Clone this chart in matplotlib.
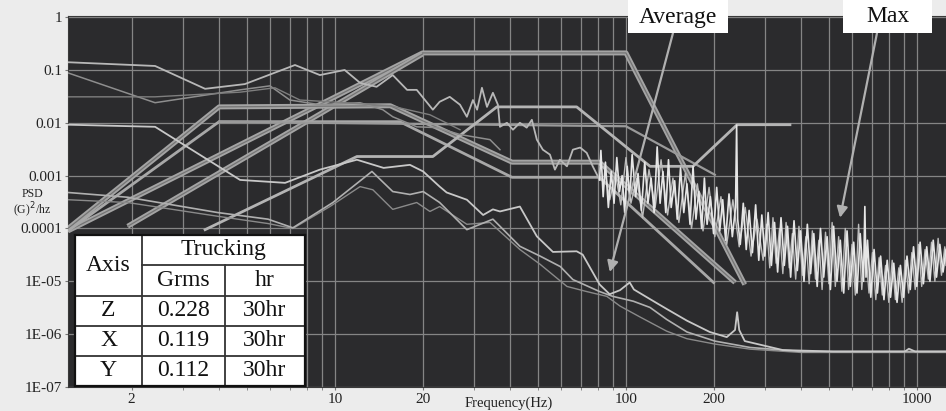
import matplotlib.pyplot as plt
import numpy as np
from matplotlib.ticker import FixedLocator, LogLocator, NullFormatter, NullLocator

plt.rcParams['font.family'] = ['Liberation Serif', 'DejaVu Serif']

# --- test profiles (thick double lines), Hz / G^2/Hz ---
p1_f = [1.21, 20, 100, 256]
p1_p = [9e-5, 0.21, 0.21, 8.7e-6]
p1b_f = [1.94, 20]
p1b_p = [1.1e-4, 0.2]
s1_f = [1.21, 4.0, 15.5, 40.6, 81, 237]
s1_p = [1e-4, 0.02, 0.021, 0.0018, 0.0018, 9.5e-6]
s2_f = [1.21, 4.0, 16.7, 40.6, 81, 200]
s2_p = [9e-5, 0.0105, 0.0105, 0.00093, 0.00093, 9.5e-6]

# --- thinner profile-like lines ---
f_line_f = [4.0, 100, 202]
f_line_p = [0.0105, 0.0086, 0.00104]
g_f = [3.58, 11.9, 21.7, 36.0, 67.7, 121, 170, 241, 366]
g_p = [9.5e-5, 0.0023, 0.0023, 0.020, 0.020, 0.0015, 0.0015, 0.0092, 0.0092]

# --- measured curves, upper left ---
l1_f = [1.21, 2.41, 3.58, 4.9, 7.29, 8.88, 10.8, 12.2, 13.9, 15.8, 17.7, 19.1,
        21.7, 22.9, 24.8, 26.9, 28.4, 29.8, 30.8, 32.0, 33.3, 34.9, 36.3, 36.9,
        39.0, 40.9, 43.2, 45.6, 47.5, 49.4, 51.8, 54.8, 57.0, 59.3, 62.7, 65.7,
        69.6, 73.3, 76.9, 81.2]
l1_p = [0.14, 0.119, 0.044, 0.054, 0.124, 0.08, 0.1, 0.057, 0.048, 0.08, 0.042,
        0.042, 0.0177, 0.025, 0.031, 0.022, 0.013, 0.027, 0.0177, 0.046, 0.020,
        0.037, 0.022, 0.0084, 0.010, 0.0074, 0.010, 0.0081, 0.0114, 0.0048,
        0.0031, 0.0025, 0.0013, 0.0020, 0.0015, 0.0031, 0.0034, 0.0027, 0.0015,
        0.00083]
l2_f = [1.21, 2.41, 4.72, 5.98, 7.0, 8.88, 12.2, 14.6, 15.8, 19.1, 22.4, 26.9, 34.1, 36.9]
l2_p = [0.088, 0.024, 0.042, 0.050, 0.027, 0.022, 0.024, 0.0177, 0.013, 0.0084,
        0.0081, 0.0060, 0.0048, 0.0031]
l2b_f = [1.21, 2.41, 4.72, 6.22, 7.58, 10.8, 15.5, 21.2, 26.9]
l2b_p = [0.031, 0.031, 0.038, 0.046, 0.027, 0.024, 0.021, 0.0142, 0.0074]

# --- "Max" noisy spectra ---
max_f = [81.2, 82, 83.5, 85, 87, 89, 91, 93, 95, 97, 99, 101, 103, 105, 108, 110,
         113, 116, 119, 122, 125, 128, 131, 134, 137, 140, 143, 147, 150, 154, 158,
         162, 166, 170, 174, 178, 182, 186, 190, 195, 200, 205, 210, 215, 220, 226,
         232, 238, 240, 242, 247, 253, 259, 265, 272, 279, 286, 293, 300, 308, 316,
         324, 332, 341, 350, 359, 368, 378, 388, 398, 409, 420, 431, 442, 454, 466,
         478, 491, 504, 517, 531, 545, 560, 575, 590, 606, 622, 638, 655, 662, 668,
         676, 694, 712, 731, 750, 770, 790, 811, 832, 854, 877, 900, 924, 948, 973,
         999, 1025, 1052, 1080, 1108, 1137, 1167, 1198, 1229, 1258]
max_p = [8.3e-4, 3.0e-3, 4.0e-4, 1.8e-3, 2.5e-4, 1.2e-3, 3.0e-4, 2.2e-3, 5.0e-4,
         1.0e-3, 2.0e-4, 1.5e-3, 3.5e-4, 2.5e-3, 4.0e-4, 1.1e-3, 2.2e-4, 1.8e-3,
         3.0e-4, 9.0e-4, 2.0e-4, 3.5e-3, 3.0e-4, 1.2e-3, 2.0e-4, 2.0e-3, 2.5e-4,
         8.0e-4, 1.5e-4, 1.4e-3, 2.0e-4, 7.0e-4, 1.2e-4, 1.5e-3, 1.5e-4, 5.0e-4,
         1.0e-4, 9.0e-4, 1.2e-4, 4.0e-4, 8.0e-5, 6.0e-4, 9.0e-5, 3.5e-4, 6.0e-5,
         4.5e-4, 7.0e-5, 2.5e-4, 9.0e-3, 1.5e-4, 5.0e-5, 3.0e-4, 4.0e-5, 2.2e-4,
         3.5e-5, 2.8e-4, 2.5e-5, 1.8e-4, 3.0e-5, 2.0e-4, 2.0e-5, 1.3e-4, 1.5e-5,
         1.6e-4, 2.0e-5, 1.1e-4, 1.2e-5, 1.4e-4, 1.6e-5, 9.0e-5, 1.0e-5, 1.2e-4,
         1.4e-5, 8.0e-5, 8.0e-6, 1.0e-4, 1.2e-5, 7.0e-5, 7.0e-6, 1.1e-4, 1.0e-5,
         6.0e-5, 6.0e-6, 9.0e-5, 8.0e-6, 5.5e-5, 6.0e-6, 8.0e-5, 1.0e-5, 2.6e-4,
         1.2e-5, 6.0e-5, 5.0e-6, 4.0e-5, 6.0e-6, 3.0e-5, 4.5e-6, 2.5e-5, 5.0e-6,
         2.2e-5, 4.0e-6, 2.0e-5, 5.0e-6, 3.0e-5, 7.0e-6, 4.5e-5, 8.0e-6, 5.5e-5,
         9.0e-6, 4.5e-5, 1.0e-5, 6.0e-5, 1.2e-5, 5.0e-5, 1.5e-5, 4.0e-5]
max2_pts = [(84, 1.5e-3), (88, 3.5e-4), (92, 1.1e-3), (96, 2.8e-4), (100, 2.2e-3),
            (104, 3.0e-4), (109, 9.0e-4), (114, 1.6e-4), (120, 1.3e-3), (126, 2.5e-4),
            (132, 2.0e-3), (139, 1.8e-4), (145, 9.0e-4), (152, 1.3e-4), (160, 1.1e-3),
            (168, 1.0e-4), (176, 7.0e-4), (184, 9.0e-5), (193, 6.0e-4), (202, 7.0e-5),
            (212, 4.0e-4), (222, 5.0e-5), (233, 3.5e-4), (245, 4.5e-5), (257, 2.5e-4),
            (269, 3.0e-5), (282, 1.5e-4), (296, 2.5e-5), (304, 1.2e-4), (312, 1.8e-5),
            (320, 1.6e-4), (328, 2.2e-5), (337, 1.0e-4), (346, 1.4e-5), (355, 1.3e-4),
            (364, 1.8e-5), (373, 8.0e-5), (383, 1.1e-5), (393, 1.1e-4), (404, 1.3e-5),
            (415, 7.0e-5), (426, 9.0e-6), (437, 9.0e-5), (448, 1.1e-5), (460, 6.0e-5),
            (472, 7.0e-6), (485, 8.5e-5), (498, 9.0e-6), (511, 1.3e-4), (524, 8.0e-6),
            (538, 7.0e-5), (552, 6.5e-6), (567, 1.0e-4), (582, 7.0e-6), (598, 5.0e-5),
            (614, 5.5e-6), (630, 1.2e-4), (646, 7.0e-6), (664, 5.0e-5), (684, 6.0e-6),
            (703, 3.5e-5), (722, 4.5e-6), (741, 2.8e-5), (760, 5.5e-6), (780, 2.0e-5),
            (800, 4.0e-6), (822, 2.5e-5), (843, 4.5e-6), (866, 1.8e-5), (889, 4.0e-6),
            (912, 2.5e-5), (936, 6.0e-6), (960, 3.5e-5), (986, 7.0e-6), (1012, 5.0e-5),
            (1038, 8.0e-6), (1066, 4.0e-5), (1094, 1.1e-5), (1122, 5.5e-5),
            (1152, 1.0e-5), (1182, 6.5e-5), (1214, 1.3e-5), (1246, 4.5e-5),
            (1258, 2.0e-5)]

# --- "Average" curves ---
ava_f = [1.21, 2.41, 4.72, 6.74, 8.88, 11.9, 14.7, 18.1, 20.1, 22.9, 24.2, 28.4,
         32.3, 34.9, 36.9, 43.2, 49.4, 56.1, 67.7, 71.0, 81.2, 87.9, 95.4, 103,
         106.5, 121, 138, 162, 194, 222, 237, 241, 245, 256, 346, 515, 909, 938,
         985, 1258]
ava_p = [0.0092, 0.0084, 0.00083, 0.00073, 0.0013, 0.0020, 0.0014, 0.0016, 0.0012,
         0.00062, 0.00048, 0.00035, 0.00018, 0.00023, 0.00021, 0.00026, 7.1e-5,
         3.6e-5, 3.7e-5, 3.2e-5, 8.7e-6, 5.7e-6, 6.8e-6, 9.5e-6, 7.0e-6, 4.6e-6,
         3.0e-6, 1.8e-6, 1.1e-6, 8.8e-7, 1.2e-6, 2.6e-6, 1.2e-6, 7.4e-7, 5.0e-7,
         4.7e-7, 4.7e-7, 5.3e-7, 4.7e-7, 4.7e-7]
avb_f = [1.21, 1.94, 3.96, 5.89, 7.17, 9.84, 13.4, 15.8, 18.1, 20.1, 22.9, 28.4,
         34.9, 43.2, 50.7, 59.5, 65.7, 81.2, 90, 106, 121, 138, 162, 202, 267, 400, 1258]
avb_p = [4.8e-4, 3.9e-4, 2.0e-4, 1.5e-4, 1.03e-4, 3.1e-4, 1.2e-3, 5.0e-4, 4.4e-4,
         5.0e-4, 3.1e-4, 9.5e-5, 1.5e-4, 4.6e-5, 3.0e-5, 1.9e-5, 1.08e-5, 6.4e-6,
         5.2e-6, 4.2e-6, 3.2e-6, 1.9e-6, 1.1e-6, 7.4e-7, 5.6e-7, 4.7e-7, 4.7e-7]
avc_f = [1.21, 1.94, 3.96, 5.89, 7.17, 9.61, 12.2, 13.5, 15.8, 19.1, 21.2, 22.9,
         28.4, 34.1, 43.2, 50.7, 62.7, 73.3, 85.9, 95.4, 112, 138, 162, 202, 267, 400, 1258]
avc_p = [3.5e-4, 3.1e-4, 1.7e-4, 1.24e-4, 1.0e-4, 2.6e-4, 6.2e-4, 5.4e-4, 2.3e-4,
         3.1e-4, 2.1e-4, 2.6e-4, 1.2e-4, 1.3e-4, 4.0e-5, 2.1e-5, 8.0e-6, 6.4e-6,
         5.2e-6, 3.4e-6, 2.1e-6, 1.14e-6, 8.2e-7, 6.5e-7, 5.2e-7, 4.5e-7, 4.5e-7]

# --- table ---
axis_names = ['Z', 'X', 'Y']
grms_vals = ['0.228', '0.119', '0.112']
hours = ['30hr', '30hr', '30hr']

# y tick labels
y_ticks = [1e-7, 1e-6, 1e-5, 1e-4, 1e-3, 1e-2, 1e-1, 1]
y_labels = ['1E-07', '1E-06', '1E-05', '0.0001', '0.001', '0.01', '0.1', '1']
x_ticks = [2, 10, 20, 100, 200, 1000]

W, H = 946, 411
fig = plt.figure(figsize=(W / 100, H / 100), dpi=100, facecolor='#ececec')
ax = fig.add_axes([68 / W, 1 - 387 / H, 878 / W, 371 / H])
ax.set_facecolor('#2b2b2d')
ax.set_xscale('log')
ax.set_yscale('log')
ax.set_xlim(1.21, 1258)
ax.set_ylim(1e-7, 1.05)

ax.xaxis.set_major_locator(FixedLocator(x_ticks))
ax.set_xticklabels([str(t) for t in x_ticks])
ax.xaxis.set_minor_locator(LogLocator(base=10, subs=np.arange(1, 10)))
ax.xaxis.set_minor_formatter(NullFormatter())
ax.set_yticks(y_ticks)
ax.set_yticklabels(y_labels)
ax.yaxis.set_minor_locator(NullLocator())
ax.tick_params(axis='both', which='both', length=2, color='#777', labelsize=11,
               labelcolor='#222', pad=2)
ax.grid(True, axis='x', which='both', color='#858585', lw=0.9)
ax.grid(True, axis='y', which='major', color='#858585', lw=0.9)
ax.set_axisbelow(True)
for s in ax.spines.values():
    s.set_color('#3a3a3a')


def profile(f, p):
    ax.plot(f, p, color='#a4a4a4', lw=3.6, solid_capstyle='butt', zorder=3)
    ax.plot(f, p, color='#747474', lw=0.9, zorder=3)


profile(p1_f, p1_p)
profile(p1b_f, p1b_p)
profile(s1_f, s1_p)
ax.plot(s2_f, s2_p, color='#a8a8a8', lw=2.0, zorder=3)
ax.plot(f_line_f, f_line_p, color='#9a9a9a', lw=1.6, zorder=3)
ax.plot(g_f, g_p, color='#b4b4b4', lw=2.0, zorder=3)

ax.plot(l2_f, l2_p, color='#8e8e8e', lw=1.1, zorder=4)
ax.plot(l2b_f, l2b_p, color='#7e7e7e', lw=1.0, zorder=4)
ax.plot(l1_f, l1_p, color='#b8b8b8', lw=1.3, zorder=4)
m2_f, m2_p = zip(*max2_pts)
ax.plot(m2_f, m2_p, color='#bdbdbd', lw=1.0, zorder=5)
ax.plot(max_f, max_p, color='#e6e6e6', lw=1.2, zorder=5)

ax.plot(avc_f, avc_p, color='#8a8a8a', lw=1.0, zorder=4)
ax.plot(avb_f, avb_p, color='#b0b0b0', lw=1.2, zorder=4)
ax.plot(ava_f, ava_p, color='#c8c8c8', lw=1.3, zorder=4)

# axis titles
fig.text(32 / W, 1 - 204 / H, 'PSD\n(G)$^2$/hz', ha='center', va='center',
         fontsize=8.5, color='#222', linespacing=1.0)
fig.text(509 / W, 1 - 403 / H, 'Frequency(Hz)', ha='center', va='center',
         fontsize=10.5, color='#222')

# callout boxes with arrows
for label, x0, x1, tail, tip in [
        ('Average', 628, 728, (673, 33), (88, 1.5e-5)),
        ('Max', 843, 932, (877, 33), (544, 1.6e-4))]:
    fig.patches.append(plt.Rectangle((x0 / W, 1 - 33 / H), (x1 - x0) / W, 33 / H,
                                     transform=fig.transFigure, fc='white',
                                     ec='none', zorder=10))
    fig.text((x0 + x1) / 2 / W, 1 - 17 / H, label, ha='center', va='center',
             fontsize=17, color='#111', zorder=11)
    ax.annotate('', xy=tip, xycoords='data',
                xytext=(tail[0] / W, 1 - tail[1] / H), textcoords='figure fraction',
                arrowprops=dict(arrowstyle='-|>', color='#b0b0b0', lw=1.6,
                                mutation_scale=16, shrinkA=0, shrinkB=0),
                zorder=9, annotation_clip=False)

# table
tab = fig.add_axes([75 / W, 1 - 386 / H, 230 / W, 151 / H])
tab.set_xlim(0, 230)
tab.set_ylim(151, 0)
tab.set_facecolor('white')
tab.set_xticks([])
tab.set_yticks([])
for s in tab.spines.values():
    s.set_color('#111')
    s.set_linewidth(1.6)
col_edges = [0, 67, 150, 230]
row_edges = [0, 30, 61, 91, 121, 151]
lk = dict(color='#333', lw=1.3)
tab.plot([col_edges[1], col_edges[1]], [0, 151], **lk)
tab.plot([col_edges[2], col_edges[2]], [30, 151], **lk)
tab.plot([67, 230], [30, 30], **lk)
for r in row_edges[2:5]:
    tab.plot([0, 230], [r, r], **lk)
tk = dict(ha='center', va='center', fontsize=17, color='#111')
tab.text(33.5, 30.5, 'Axis', **tk)
tab.text(148.5, 15, 'Trucking', **tk)
tab.text(108.5, 45.5, 'Grms', **tk)
tab.text(190, 45.5, 'hr', **tk)
for i in range(3):
    yc = (row_edges[i + 2] + row_edges[i + 3]) / 2
    tab.text(33.5, yc, axis_names[i], **tk)
    tab.text(108.5, yc, grms_vals[i], **tk)
    tab.text(190, yc, hours[i], **tk)

fig.savefig('out.png', dpi=100, facecolor=fig.get_facecolor())
